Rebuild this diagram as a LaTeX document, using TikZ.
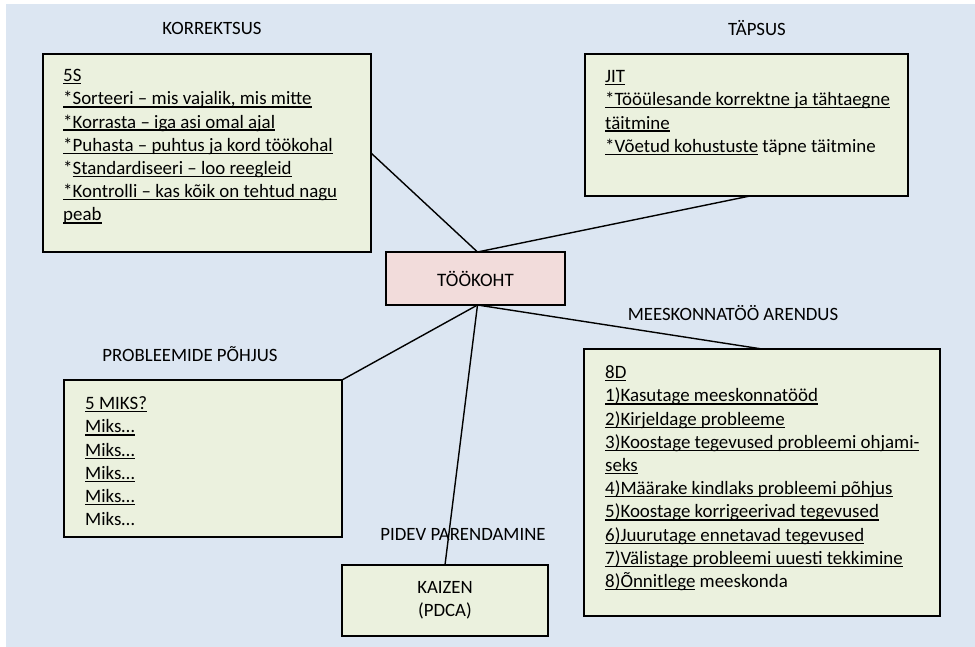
\documentclass[tikz,border=0pt]{standalone}
\usepackage{fontspec}
\setmainfont{Carlito}
\usetikzlibrary{calc}
\definecolor{bgblue}{HTML}{DCE6F2}
\definecolor{boxgreen}{HTML}{EBF1DE}
\definecolor{hubpink}{HTML}{F2DCDB}
% underlined text: a rule of the text's width a little below the baseline
\newcommand{\undr}[1]{\leavevmode\setbox0\hbox{#1}\rlap{\rule[-2.6pt]{\wd0}{1.2pt}}\box0\relax}
\newcommand{\firstline}{\rule{0pt}{16pt}}

\begin{document}
\begin{tikzpicture}[x=1pt,y=-1pt,
  panel/.style={draw=black, line width=1.4pt, fill=boxgreen, anchor=north west, inner sep=0pt, outer sep=0pt},
  hub/.style={draw=black, line width=1.4pt, fill=hubpink, inner sep=0pt, outer sep=0pt,
    font=\fontsize{19}{22}\selectfont, align=center},
  bodytext/.style={anchor=north west, align=left, inner sep=0pt, font=\fontsize{18.9}{23.2}\selectfont},
  heading/.style={inner sep=0pt, font=\fontsize{18.8}{22}\selectfont},
  link/.style={draw=black, line width=1.4pt}]
\useasboundingbox (0,0) rectangle (975,647);
\fill[bgblue] (6,4) rectangle (975,647);

% boxes
\node[panel, minimum width=328, minimum height=198] (s5) at (43,54) {};
\node[panel, minimum width=323, minimum height=142] (jit) at (585,54) {};
\node[panel, minimum width=278, minimum height=157] (miks) at (64,380) {};
\node[panel, minimum width=356, minimum height=267] (d8) at (584,349) {};
\node[hub, minimum width=179, minimum height=53] (hub) at (475.5,278.5) {TÖÖKOHT};
\node[panel, anchor=center, align=center, font=\fontsize{18.8}{22.5}\selectfont,
  minimum width=206, minimum height=71] (kaizen) at (445,600.5) {KAIZEN\\(PDCA)};

% connectors from the central box
\coordinate (hubtop) at ($(hub.north)+(2,0)$);
\coordinate (hubbot) at ($(hub.south)+(2,0)$);
\draw[link] (hubtop) -- (s5.east);
\draw[link] (hubtop) -- ($(jit.south west)+(165,0)$);
\draw[link] (hubbot) -- (miks.north east);
\draw[link] (hubbot) -- ($(d8.north west)+(178,0)$);
\draw[link] (hubbot) -- (kaizen.north);

% headings
\node[heading] (lkorr) at (212,28) {KORREKTSUS};
\node[heading] (ltaps) at (757,28) {TÄPSUS};
\node[heading] (lprob) at (190,354) {PROBLEEMIDE PÕHJUS};
\node[heading] (lmees) at (733,313) {MEESKONNATÖÖ ARENDUS};
\node[heading] (lpidev) at (463,534) {PIDEV PARENDAMINE};

% box contents
\node[bodytext] (s5t) at (63,65.5) {\firstline\undr{5S}\\
\undr{*Sorteeri – mis vajalik, mis mitte}\\
\undr{*Korrasta – iga asi omal ajal}\\
\undr{*Puhasta – puhtus ja kord töökohal}\\
*\undr{Standardiseeri – loo reegleid}\\
\undr{*Kontrolli – kas kõik on tehtud nagu}\\
\undr{peab}};

\node[bodytext] (jitt) at (605,66.5) {\firstline\undr{JIT}\\
\undr{*Tööülesande korrektne ja tähtaegne}\\
\undr{täitmine}\\
\undr{*Võetud kohustuste} täpne täitmine};

\node[bodytext] (mikst) at (85,393.5) {\firstline\undr{5 MIKS?}\\
\undr{Miks…}\\
\undr{Miks…}\\
\undr{Miks…}\\
\undr{Miks…}\\
Miks…};

\node[bodytext] (d8t) at (605,362.5) {\firstline\undr{8D}\\
\undr{1)Kasutage meeskonnatööd}\\
\undr{2)Kirjeldage probleeme}\\
\undr{3)Koostage tegevused probleemi ohjami-}\\
\undr{seks}\\
\undr{4)Määrake kindlaks probleemi põhjus}\\
\undr{5)Koostage korrigeerivad tegevused}\\
\undr{6)Juurutage ennetavad tegevused}\\
\undr{7)Välistage probleemi uuesti tekkimine}\\
\undr{8)Õnnitlege} meeskonda};
\end{tikzpicture}
\end{document}
